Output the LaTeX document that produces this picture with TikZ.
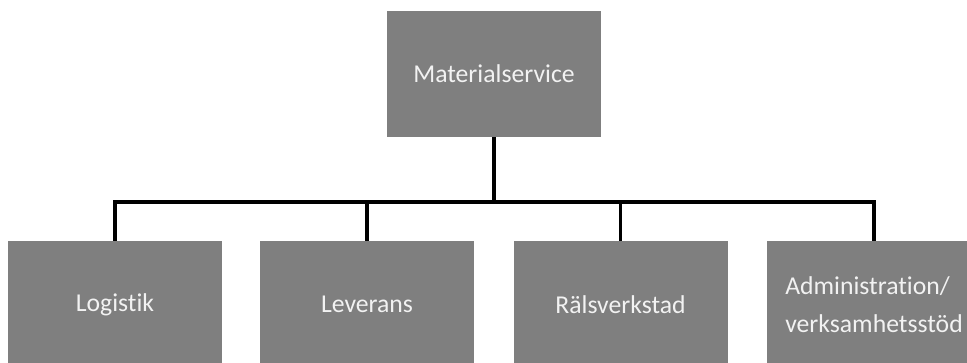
\documentclass[tikz,border=0pt]{standalone}
\usepackage{fontspec}
\setmainfont{Carlito}[RawFeature={-liga}]
\definecolor{boxgray}{RGB}{127,127,127}
\definecolor{boxtext}{RGB}{242,242,242}
\begin{document}
\begin{tikzpicture}[x=1pt,y=-1pt,
  unit/.style={fill=boxgray, text=boxtext, minimum width=214pt, minimum height=126pt,
    inner sep=0pt, font=\fontsize{25.7}{38}\selectfont},
  link/.style={line width=3.4pt, black, line join=miter}]
  \useasboundingbox (0,0) rectangle (967,363);
  \clip (0,0) rectangle (967,363);

  % head of the organisation
  \node[unit] (top) at (494,74) {Materialservice};

  % departments
  \node[unit] (c1) at (115,304.5) {Logistik};
  \node[unit] (c2) at (367,304.5) {Leverans};
  \node[unit] (c3) at (620.5,304.5) {Rälsverkstad};
  \node[unit, align=left] (c4) at (874,304.5) {Administration/\\verksamhetsstöd};

  % connecting tree
  \coordinate (bus) at (494,202);
  \foreach \c in {c1,c2,c3,c4}
    \draw[link] (top.south) -- (top.south |- bus) -| (\c.north);
\end{tikzpicture}
\end{document}
